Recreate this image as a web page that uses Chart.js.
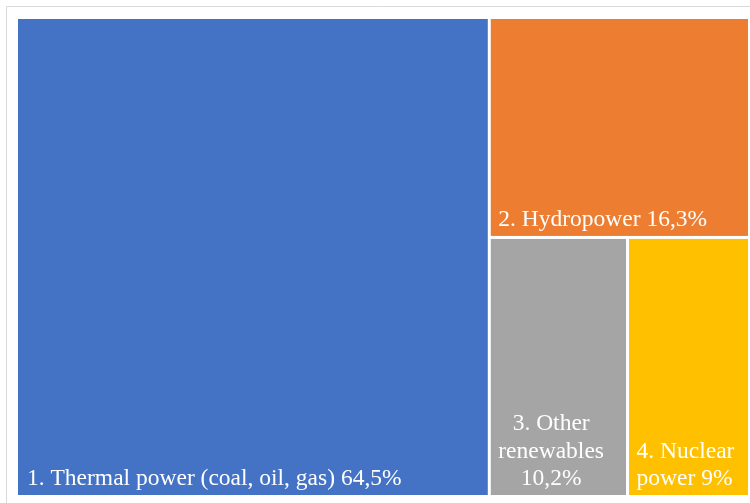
<!DOCTYPE html>
<html>
<head>
<meta charset="utf-8">
<script src="https://cdn.jsdelivr.net/npm/chart.js@4.4.1/dist/chart.umd.min.js"></script>
<style>
  html, body { margin: 0; padding: 0; background: #ffffff; }
  #wrap { position: relative; width: 750px; height: 503px; }
</style>
</head>
<body>
<div id="wrap"><canvas id="c" width="750" height="503"></canvas></div>
<script>
// Electricity generation by source, share of total
const categories = ['1. Thermal power (coal, oil, gas)', '2. Hydropower', '3. Other renewables', '4. Nuclear power'];
const shares = [64.5, 16.3, 10.2, 9];
const shareLabels = ['64,5%', '16,3%', '10,2%', '9%'];
const colors = ['#4472C4', '#ED7D31', '#A5A5A5', '#FFC000'];
const labelAlign = ['left', 'left', 'center', 'left'];

const LABEL_FONT = '23.5px "Liberation Serif"';

// Squarified treemap layout in value space; k = pixel aspect (width / height)
function squarify(values, k) {
  const rect0 = { x: 0, y: 0, w: 100 * k, h: 100 };
  const total = values.reduce((a, b) => a + b, 0);
  const area = rect0.w * rect0.h;
  const items = values.map((v, i) => ({ i, a: v / total * area }));
  const out = [];
  let r = { ...rect0 };
  const worst = (row, side) => {
    const s = row.reduce((a, b) => a + b.a, 0);
    const len = s / side;
    let mx = 0;
    for (const it of row) {
      const o = it.a / len;
      mx = Math.max(mx, len / o, o / len);
    }
    return mx;
  };
  const layoutRow = (row) => {
    const s = row.reduce((a, b) => a + b.a, 0);
    if (r.w >= r.h) {
      const cw = s / r.h; let y = r.y;
      for (const it of row) { const h = it.a / cw; out[it.i] = { x: r.x, y, w: cw, h }; y += h; }
      r = { x: r.x + cw, y: r.y, w: r.w - cw, h: r.h };
    } else {
      const rh = s / r.w; let x = r.x;
      for (const it of row) { const w = it.a / rh; out[it.i] = { x, y: r.y, w, h: rh }; x += w; }
      r = { x: r.x, y: r.y + rh, w: r.w, h: r.h - rh };
    }
  };
  let row = [];
  let n = 0;
  while (n < items.length) {
    const side = Math.min(r.w, r.h);
    const it = items[n];
    if (row.length === 0 || worst(row.concat(it), side) <= worst(row, side)) { row.push(it); n++; }
    else { layoutRow(row); row = []; }
  }
  if (row.length) layoutRow(row);
  // back to 0..100 on both axes
  return out.map(c => ({ x: c.x / k, y: c.y, w: c.w / k, h: c.h }));
}

function wrapWords(ctx, text, maxW) {
  const words = text.split(' ');
  const lines = [];
  let cur = '';
  for (const w of words) {
    const t = cur ? cur + ' ' + w : w;
    if (cur && ctx.measureText(t).width > maxW) { lines.push(cur); cur = w; }
    else cur = t;
  }
  if (cur) lines.push(cur);
  return lines;
}

const frame = {
  id: 'frame',
  beforeDraw(chart) {
    const ctx = chart.ctx;
    ctx.save();
    ctx.strokeStyle = '#d9d9d9';
    ctx.lineWidth = 1;
    ctx.beginPath();
    ctx.moveTo(6.5, chart.height);
    ctx.lineTo(6.5, 6.5);
    ctx.lineTo(chart.width, 6.5);
    ctx.stroke();
    ctx.restore();
  }
};

const treemapCells = {
  id: 'treemapCells',
  afterDatasetsDraw(chart) {
    const { ctx, chartArea, scales } = chart;
    const k = chartArea.width / chartArea.height;
    const cells = squarify(shares, k);
    const pad = 7.5, lineH = 27.5;
    ctx.save();
    cells.forEach((c, i) => {
      const x0 = scales.x.getPixelForValue(c.x);
      const x1 = scales.x.getPixelForValue(c.x + c.w);
      const y0 = scales.y.getPixelForValue(c.y);
      const y1 = scales.y.getPixelForValue(c.y + c.h);
      const left = x0 + 1, top = y0 + 1;
      const w = x1 - x0 - 3, h = y1 - y0 - 3;
      ctx.fillStyle = colors[i];
      ctx.fillRect(left, top, w, h);

      ctx.font = LABEL_FONT;
      ctx.fillStyle = '#ffffff';
      ctx.textBaseline = 'alphabetic';
      ctx.textAlign = 'left';
      const lines = wrapWords(ctx, categories[i] + ' ' + shareLabels[i], w - 2 * pad);
      const widths = lines.map(l => ctx.measureText(l).width);
      const blockW = Math.max(...widths);
      const lastBase = top + h - 10;
      lines.forEach((l, j) => {
        const yy = lastBase - (lines.length - 1 - j) * lineH;
        let xx = left + pad + (i === 0 ? 1.5 : 0);
        if (labelAlign[i] === 'center') xx += (blockW - widths[j]) / 2;
        ctx.fillText(l, xx, yy);
      });
    });
    ctx.restore();
  }
};

new Chart(document.getElementById('c'), {
  type: 'scatter',
  data: { datasets: [{ data: [] }] },
  options: {
    responsive: false,
    animation: false,
    events: [],
    layout: { padding: { left: 17, right: 0, top: 18, bottom: 6 } },
    plugins: { legend: { display: false }, tooltip: { enabled: false } },
    scales: {
      x: { type: 'linear', min: 0, max: 100, display: false },
      y: { type: 'linear', min: 0, max: 100, reverse: true, display: false }
    }
  },
  plugins: [frame, treemapCells]
});
</script>
</body>
</html>
